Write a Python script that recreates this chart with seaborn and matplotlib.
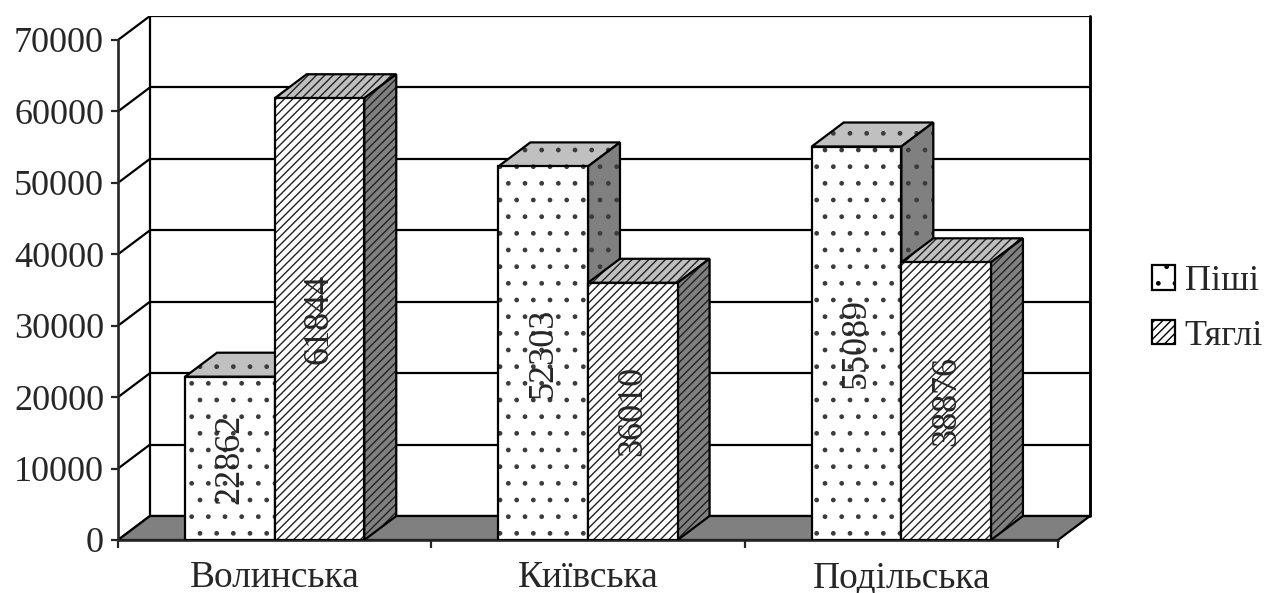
import numpy as np
import pandas as pd
import seaborn as sns
import matplotlib
matplotlib.use("Agg")
import matplotlib.pyplot as plt
from matplotlib.patches import Polygon, Rectangle

# ---- data ----
categories = ['Волинська', 'Київська', 'Подільська']
series = ['Піші', 'Тяглі']
pishi = [22862, 52303, 55089]
tyahli = [61844, 36010, 38876]
yticks = [0, 10000, 20000, 30000, 40000, 50000, 60000, 70000]

df = pd.DataFrame({
    'region': categories * 2,
    'type': [series[0]] * 3 + [series[1]] * 3,
    'value': pishi + tyahli,
})

sns.set_style('white')
plt.rcParams['font.family'] = ['Liberation Serif', 'DejaVu Serif']
plt.rcParams['hatch.linewidth'] = 1.0

W, H = 1272, 593
fig = plt.figure(figsize=(W / 100, H / 100), dpi=100)
fig.patch.set_facecolor('white')

px_x0, px_x1 = 118, 1090
px_y0, px_ytop = 540, 16
ymax = 70000
ppu_y = (px_y0 - 40) / ymax
ppu_x = (1059 - 118) / 3.0
dxp, dyp = 32, 24
dx = dxp / ppu_x
dy = dyp / ppu_y
xmin = -0.5
xfront = 2.5
xmax = xfront + dx
ytop = ymax + dy

ax = fig.add_axes([px_x0 / W, 1 - px_y0 / H, (px_x1 - px_x0) / W, (px_y0 - px_ytop) / H])
ax.set_xlim(xmin, xmax)
ax.set_ylim(0, ytop)
ax.set_facecolor('none')

lw = 1.6
hatch_col = {0: '#3c3c3c', 1: '#222222'}
hatches = {0: '.', 1: '////'}

# ---- walls, grid, floor ----
for t in yticks:
    ax.plot([xmin, xmin + dx], [t, t + dy], color='black', lw=lw, zorder=1, solid_capstyle='butt')
    ax.plot([xmin + dx, xmax], [t + dy, t + dy], color='black', lw=lw, zorder=1, solid_capstyle='butt')
ax.plot([xmin + dx, xmin + dx], [dy, ytop], color='black', lw=lw, zorder=1)
ax.plot([xmax, xmax], [dy, ytop], color='black', lw=lw * 1.3, zorder=1, clip_on=False)
floor = Polygon([(xmin, 0), (xfront, 0), (xmax, dy), (xmin + dx, dy)], closed=True,
                facecolor='#808080', edgecolor='black', lw=lw, zorder=1.5)
ax.add_patch(floor)

# ---- bars via seaborn ----
sns.barplot(data=df, x='region', y='value', hue='type', order=categories, hue_order=series,
            width=0.572, palette=['white', 'white'], edgecolor='black', linewidth=lw,
            legend=False, ax=ax, zorder=3)
ax.set_xlim(xmin, xmax)
ax.set_ylim(0, ytop)


def face(pts, fc, si, z):
    ax.add_patch(Polygon(pts, closed=True, facecolor=fc, edgecolor=hatch_col[si], lw=0,
                         hatch=hatches[si], zorder=z))
    ax.add_patch(Polygon(pts, closed=True, facecolor='none', edgecolor='black', lw=lw,
                         zorder=z + 0.001, joinstyle='miter'))


bars = []
for si, cont in enumerate(ax.containers):
    for rect in cont.patches:
        bars.append((rect.get_x(), si, rect))
bars.sort(key=lambda b: b[0])

for i, (x0, si, rect) in enumerate(bars):
    z = 3 + i * 0.1
    w = rect.get_width()
    h = rect.get_height()
    rect.set_edgecolor(hatch_col[si])
    rect.set_linewidth(0)
    rect.set_hatch(hatches[si])
    rect.set_zorder(z + 0.05)
    ax.add_patch(Rectangle((x0, 0), w, h, facecolor='none', edgecolor='black', lw=lw,
                           zorder=z + 0.051))
    face([(x0, h), (x0 + w, h), (x0 + w + dx, h + dy), (x0 + dx, h + dy)], '#c0c0c0', si, z + 0.01)
    face([(x0 + w, 0), (x0 + w + dx, dy), (x0 + w + dx, h + dy), (x0 + w, h)], '#808080', si, z + 0.03)
    ax.text(x0 + w / 2, h / 2, f'{int(round(h))}', rotation=90, ha='center', va='center',
            fontsize=26, zorder=10)

# ---- axes ----
for s in ['top', 'right']:
    ax.spines[s].set_visible(False)
ax.spines['left'].set_bounds(0, ymax)
ax.spines['bottom'].set_bounds(xmin, xfront)
for s in ['left', 'bottom']:
    ax.spines[s].set_linewidth(lw * 1.2)
    ax.spines[s].set_zorder(2)
ax.set_yticks(yticks)
ax.set_yticklabels([str(t) for t in yticks], fontsize=26)
ax.set_xticks(range(len(categories)))
ax.set_xticklabels(categories, fontsize=27)
ax.set_xticks([xmin, 0.5, 1.5, xfront], minor=True)
ax.tick_params(axis='y', which='major', direction='out', length=5, width=lw, pad=5, left=True)
ax.tick_params(axis='x', which='major', length=0, pad=15)
ax.tick_params(axis='x', which='minor', direction='out', length=6, width=lw, bottom=True)
ax.set_xlabel('')
ax.set_ylabel('')

# ---- legend ----
h0 = Rectangle((0, 0), 1, 1, facecolor='white', edgecolor='black', hatch='.', lw=lw)
h1 = Rectangle((0, 0), 1, 1, facecolor='white', edgecolor='black', hatch='////', lw=lw)
fig.legend([h0, h1], series, loc='center left', bbox_to_anchor=(1152 / W, 1 - 309 / H),
           frameon=False, fontsize=26, handlelength=0.65, handleheight=0.65,
           handletextpad=0.25, labelspacing=0.6, borderpad=0, borderaxespad=0)

fig.savefig('out.png', dpi=100, facecolor='white')
